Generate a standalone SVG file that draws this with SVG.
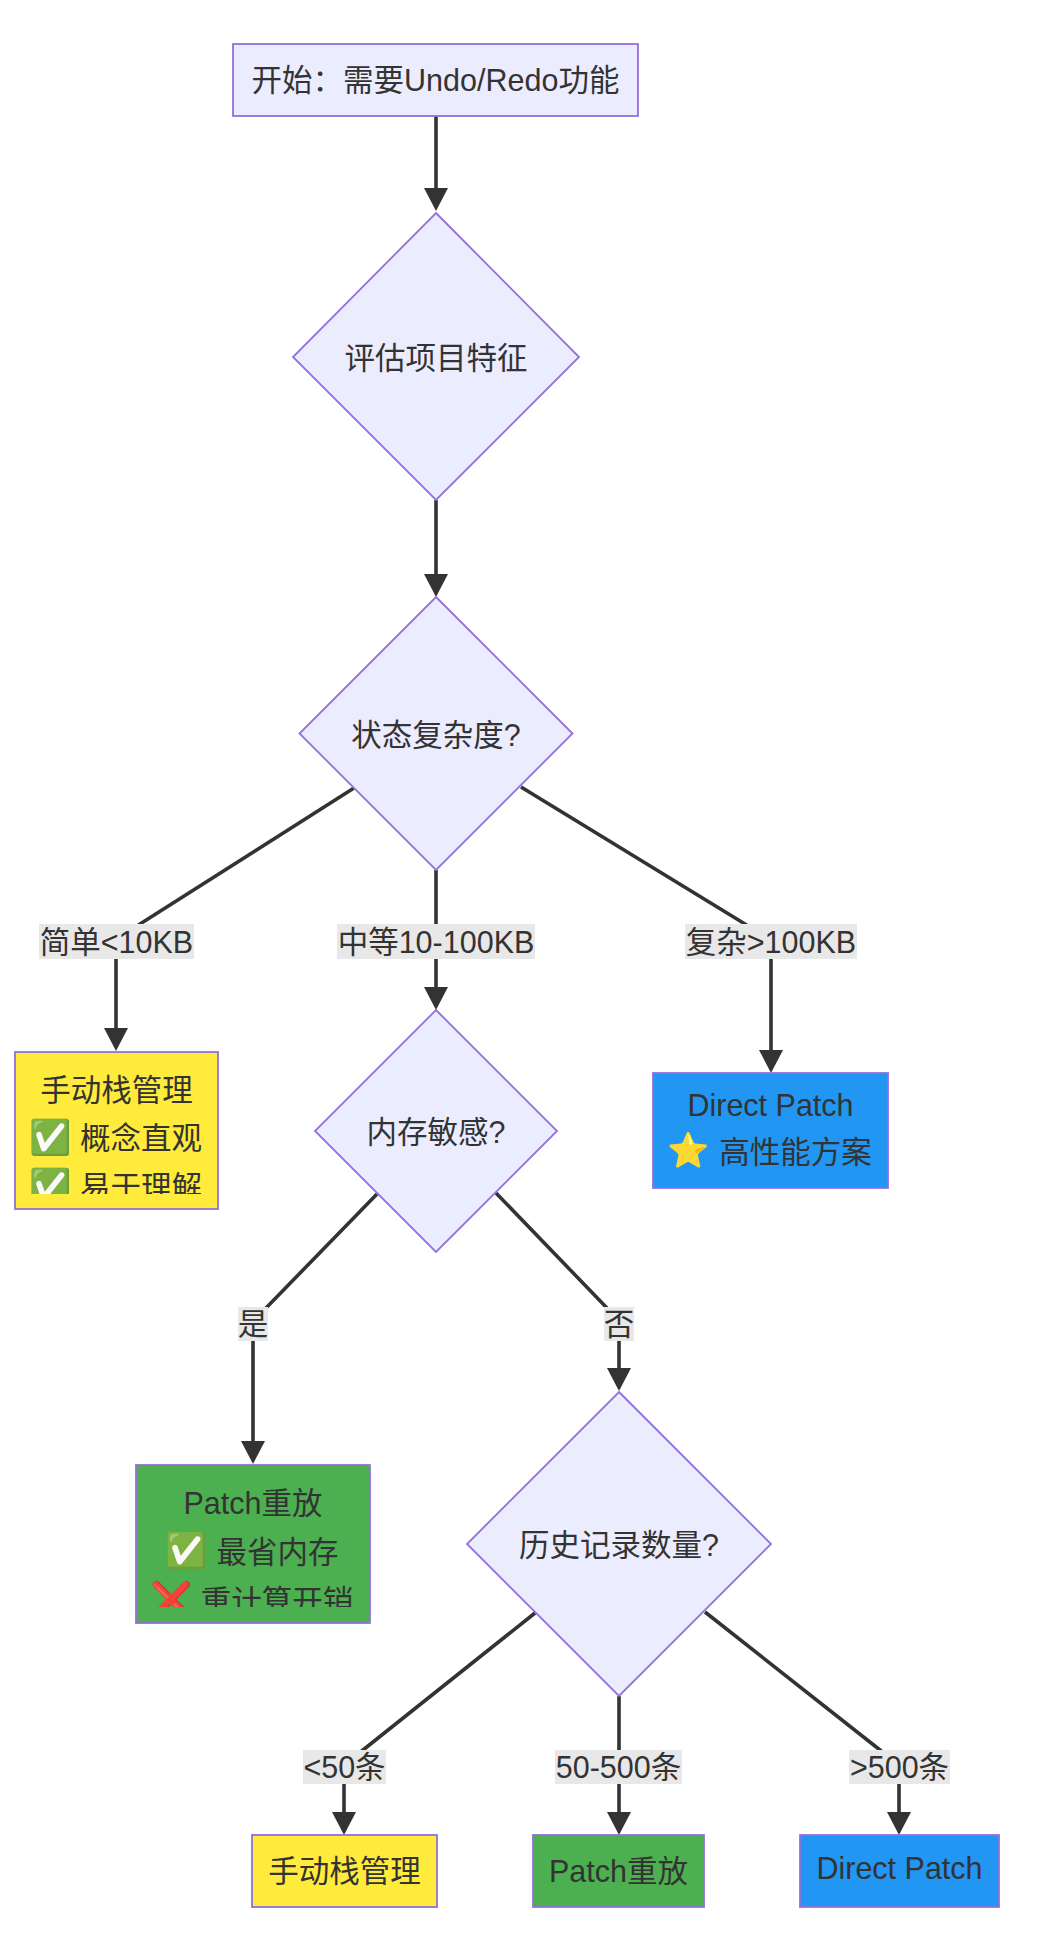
<svg xmlns="http://www.w3.org/2000/svg" width="1046" height="1952" viewBox="0 0 1046 1952">
<style>
.n{stroke:#9370DB;stroke-width:1.8}
.q{fill:#ECECFF}
.y{fill:#FFEB3B}
.g{fill:#4CAF50}
.b{fill:#2196F3}
.t{font-family:"Liberation Sans","Noto Sans CJK SC","Noto Color Emoji",sans-serif;font-size:30.5px;fill:#333;text-anchor:middle;dominant-baseline:central}
.m{font-family:"Noto Color Emoji","Liberation Sans",sans-serif;font-size:34px;text-anchor:middle;dominant-baseline:central}
.e{fill:none;stroke:#333;stroke-width:3.6}
.lb{fill:#E8E8E8}
</style>
<defs>
<marker id="ah" viewBox="0 0 10 10" refX="0" refY="5" markerUnits="userSpaceOnUse" markerWidth="23" markerHeight="24" orient="auto" preserveAspectRatio="none">
<path d="M0,0 L10,5 L0,10 z" fill="#333"/>
</marker>
<clipPath id="cy"><rect x="0" y="1040" width="240" height="154"/></clipPath>
<clipPath id="cg"><rect x="120" y="1450" width="270" height="157"/></clipPath>
</defs>
<rect width="1046" height="1952" fill="#fff"/>
<g id="edges">
<path class="e" d="M436,116 L436,188" marker-end="url(#ah)"/>
<path class="e" d="M436,500 L436,574" marker-end="url(#ah)"/>
<path class="e" d="M354,788 L140,924 Q116,940 116,960 L116,1028" marker-end="url(#ah)"/>
<path class="e" d="M436,870 L436,987" marker-end="url(#ah)"/>
<path class="e" d="M521,787 L745,924 Q771,940 771,960 L771,1050" marker-end="url(#ah)"/>
<path class="e" d="M377,1194 L267,1307 Q253,1320 253,1341 L253,1441" marker-end="url(#ah)"/>
<path class="e" d="M496,1193 L606,1307 Q619,1320 619,1341 L619,1368" marker-end="url(#ah)"/>
<path class="e" d="M535,1613 L363,1750 Q344,1765 344,1784 L344,1812" marker-end="url(#ah)"/>
<path class="e" d="M619,1696 L619,1812" marker-end="url(#ah)"/>
<path class="e" d="M705,1612 L880,1750 Q899,1765 899,1784 L899,1812" marker-end="url(#ah)"/>
</g>
<g id="edge-labels">
<rect class="lb" x="39" y="924" width="155" height="35"/>
<text class="t" x="116.5" y="942">简单&lt;10KB</text>
<rect class="lb" x="337" y="924" width="198" height="35"/>
<text class="t" x="436" y="942">中等10-100KB</text>
<rect class="lb" x="685" y="924" width="172" height="35"/>
<text class="t" x="771" y="942">复杂&gt;100KB</text>
<rect class="lb" x="238" y="1307" width="30" height="34"/>
<text class="t" x="253" y="1324">是</text>
<rect class="lb" x="604" y="1307" width="30" height="34"/>
<text class="t" x="619" y="1324">否</text>
<rect class="lb" x="303" y="1750" width="83" height="34"/>
<text class="t" x="344.5" y="1767">&lt;50条</text>
<rect class="lb" x="555" y="1750" width="127" height="34"/>
<text class="t" x="618.5" y="1767">50-500条</text>
<rect class="lb" x="849" y="1750" width="101" height="34"/>
<text class="t" x="899.5" y="1767">&gt;500条</text>
</g>
<g id="start">
<rect class="n q" x="233" y="44" width="405" height="72"/>
<text class="t" x="435.5" y="80">开始：需要Undo/Redo功能</text>
</g>
<g id="eval">
<polygon class="n q" points="436,213 579,357 436,500 293,357"/>
<text class="t" x="436" y="358">评估项目特征</text>
</g>
<g id="complexity">
<polygon class="n q" points="436,597 572.5,733.5 436,870 299.5,733.5"/>
<text class="t" x="436" y="735">状态复杂度?</text>
</g>
<g id="manual1">
<rect class="n y" x="15" y="1052" width="203" height="157"/>
<g clip-path="url(#cy)">
<text class="t" x="116.5" y="1089.5">手动栈管理</text>
<text class="m" x="50.5" y="1137">✅</text>
<text class="t" x="141" y="1138">概念直观</text>
<text class="m" x="50.5" y="1186">✅</text>
<text class="t" x="141" y="1187">易于理解</text>
</g>
</g>
<g id="direct1">
<rect class="n b" x="653" y="1073" width="235" height="115"/>
<text class="t" x="770.5" y="1104.5">Direct Patch</text>
<text class="m" x="689" y="1150">⭐</text>
<text class="t" x="795.5" y="1151.5">高性能方案</text>
</g>
<g id="memory">
<polygon class="n q" points="436,1010 557,1131 436,1252 315,1131"/>
<text class="t" x="436" y="1132">内存敏感?</text>
</g>
<g id="patch1">
<rect class="n g" x="136" y="1465" width="234" height="158"/>
<g clip-path="url(#cg)">
<text class="t" x="253" y="1502.5">Patch重放</text>
<text class="m" x="187" y="1550">✅</text>
<text class="t" x="277.5" y="1551.5">最省内存</text>
<text class="m" x="171.5" y="1599">❌</text>
<text class="t" x="277" y="1600.5">重计算开销</text>
</g>
</g>
<g id="history">
<polygon class="n q" points="619,1392 771,1544 619,1696 467,1544"/>
<text class="t" x="619" y="1545">历史记录数量?</text>
</g>
<g id="manual2">
<rect class="n y" x="252" y="1835" width="185" height="72"/>
<text class="t" x="344.5" y="1871">手动栈管理</text>
</g>
<g id="patch2">
<rect class="n g" x="533" y="1835" width="171" height="72"/>
<text class="t" x="618.5" y="1871">Patch重放</text>
</g>
<g id="direct2">
<rect class="n b" x="800" y="1835" width="199" height="72"/>
<text class="t" x="899.5" y="1868">Direct Patch</text>
</g>
</svg>
